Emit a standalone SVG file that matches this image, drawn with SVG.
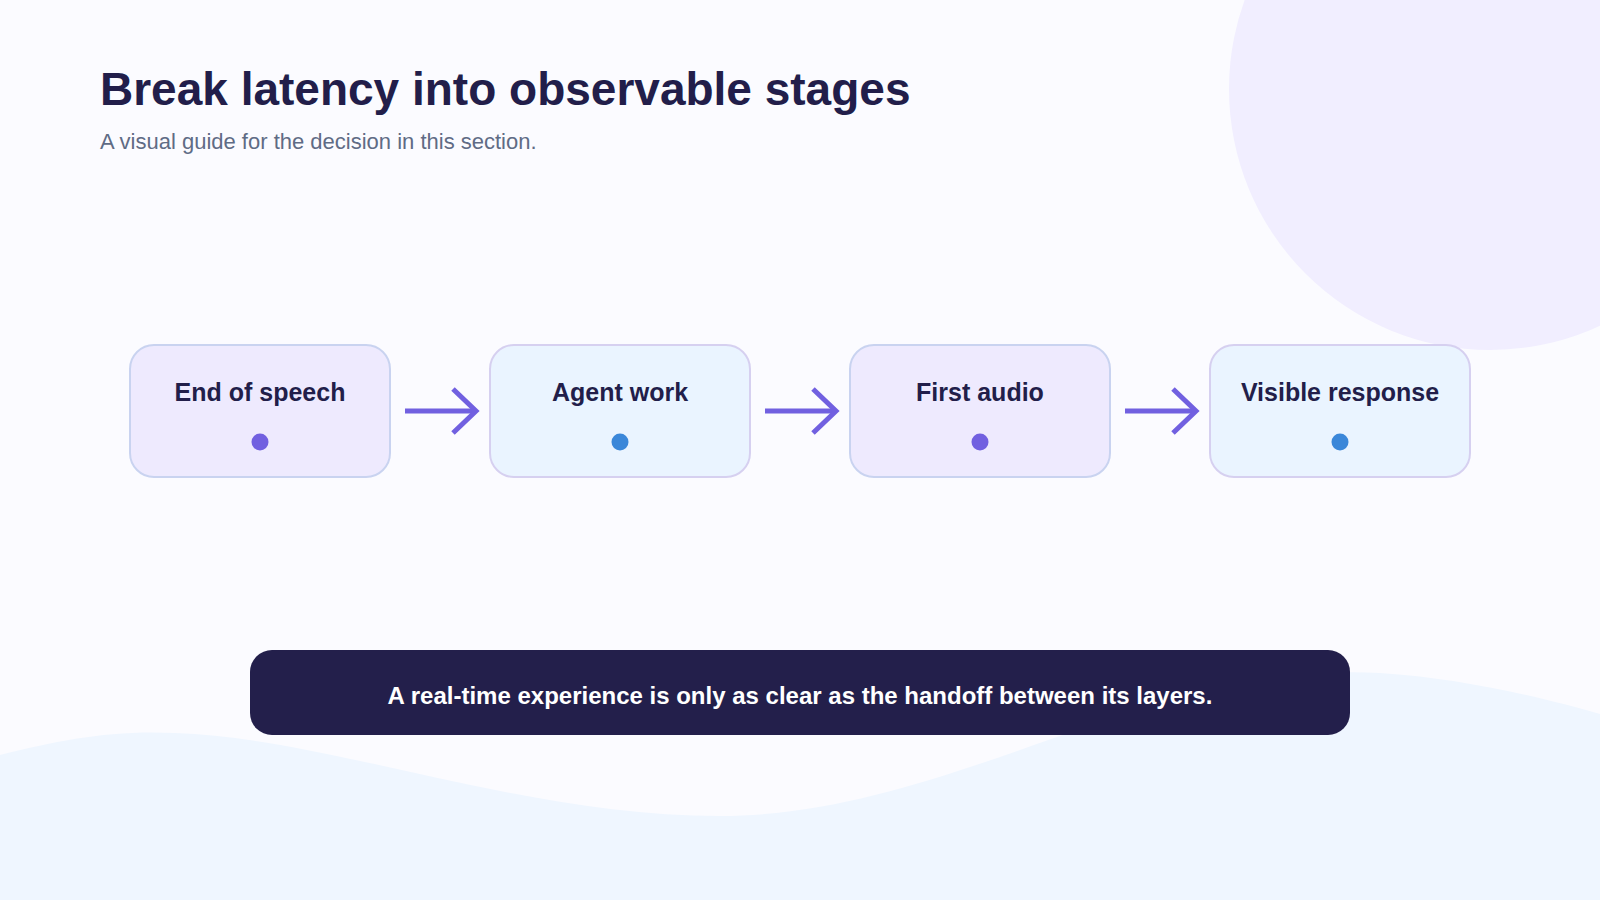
<svg xmlns="http://www.w3.org/2000/svg" width="1600" height="900" viewBox="0 0 1600 900">
<style>
.node rect{stroke-width:2;}
.lbl{font-family:"Liberation Sans",Arial,sans-serif;font-weight:bold;font-size:25px;fill:#221e4a;text-anchor:middle;}
.conn line,.conn polyline{stroke:#7160e0;stroke-width:5;fill:none;stroke-linecap:butt;}
</style>
<rect width="1600" height="900" fill="#fbfbff"/>
<circle cx="1490" cy="89" r="261" fill="#f1eeff"/>
<path d="M0 755 C60 740 110 730 175 733 C330 738 520 816 720 816 C950 816 1150 660 1380 673 C1460 678 1540 697 1600 714 L1600 900 L0 900 Z" fill="#eff6ff"/>
<text x="100" y="105" font-family="Liberation Sans,Arial,sans-serif" font-weight="bold" font-size="46" fill="#221e4a">Break latency into observable stages</text>
<text x="100" y="149" font-family="Liberation Sans,Arial,sans-serif" font-size="22" fill="#5f6b85">A visual guide for the decision in this section.</text>
<g id="n1" class="node"><rect x="130" y="345" width="260" height="132" rx="24" fill="#eeeafe" stroke="#c9d3f0"/><text class="lbl" x="260" y="401">End of speech</text><circle cx="260" cy="442" r="8.5" fill="#7160e0"/></g>
<g id="n2" class="node"><rect x="490" y="345" width="260" height="132" rx="24" fill="#eaf4ff" stroke="#d6d0f0"/><text class="lbl" x="620" y="401">Agent work</text><circle cx="620" cy="442" r="8.5" fill="#3b87d9"/></g>
<g id="n3" class="node"><rect x="850" y="345" width="260" height="132" rx="24" fill="#eeeafe" stroke="#c9d3f0"/><text class="lbl" x="980" y="401">First audio</text><circle cx="980" cy="442" r="8.5" fill="#7160e0"/></g>
<g id="n4" class="node"><rect x="1210" y="345" width="260" height="132" rx="24" fill="#eaf4ff" stroke="#d6d0f0"/><text class="lbl" x="1340" y="401">Visible response</text><circle cx="1340" cy="442" r="8.5" fill="#3b87d9"/></g>
<g id="connectors" class="conn">
<line x1="405" y1="411" x2="476" y2="411"/><polyline points="453,389 476,411 453,433"/>
<line x1="765" y1="411" x2="836" y2="411"/><polyline points="813,389 836,411 813,433"/>
<line x1="1125" y1="411" x2="1196" y2="411"/><polyline points="1173,389 1196,411 1173,433"/>
</g>
<g id="banner"><rect x="250" y="650" width="1100" height="85" rx="22" fill="#231f4b"/><text x="800" y="704" text-anchor="middle" font-family="Liberation Sans,Arial,sans-serif" font-weight="bold" font-size="24" fill="#ffffff">A real-time experience is only as clear as the handoff between its layers.</text></g>
</svg>
